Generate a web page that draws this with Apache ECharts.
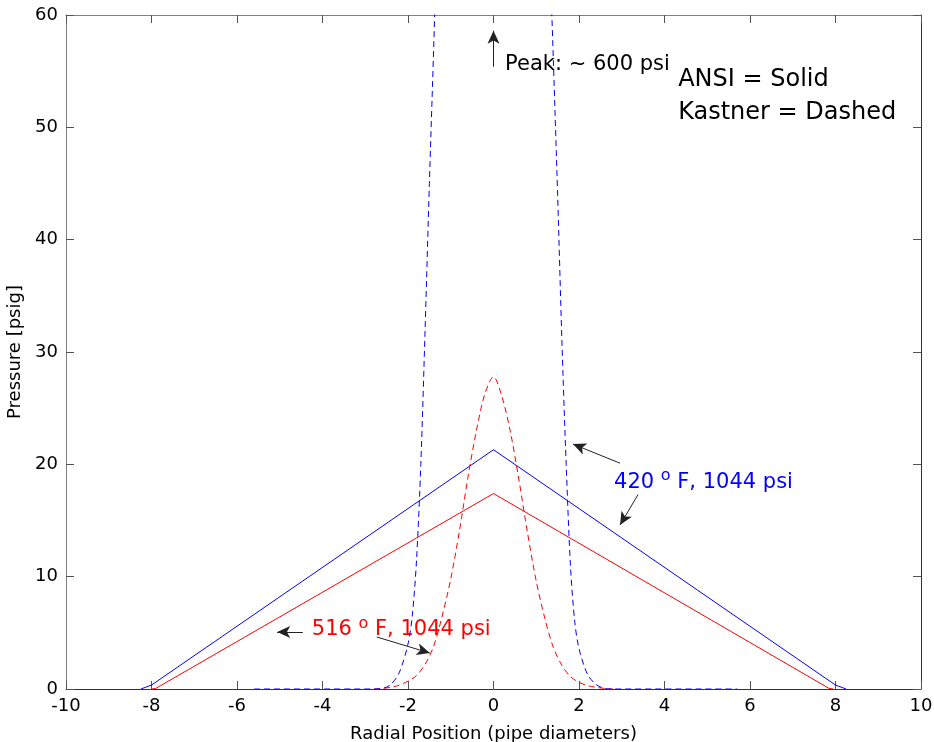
<!DOCTYPE html>
<html>
<head>
<meta charset="utf-8">
<script src="https://cdn.jsdelivr.net/npm/echarts@6/dist/echarts.min.js"></script>
<style>
  html, body { margin: 0; padding: 0; background: #fff; }
  #main { width: 934px; height: 742px; }
</style>
</head>
<body>
<div id="main"></div>
<script>
// ANSI (solid) curves
var ansiBlueX = [-8.25, -8.0, 0, 8.0, 8.25];
var ansiBlueY = [0, 0.35, 21.3, 0.35, 0];
var ansiRedX = [-8.0, -7.9, 0, 7.85, 7.95];
var ansiRedY = [0, 0.05, 17.4, 0.05, 0];

// Kastner (dashed) curves
var kastRedX = [-2.8, -2.6, -2.4, -2.2, -2.0, -1.8, -1.6, -1.4, -1.2, -1.0, -0.8, -0.6, -0.4, -0.2, 0,
                0.2, 0.4, 0.6, 0.8, 1.0, 1.2, 1.4, 1.6, 1.8, 2.0, 2.2, 2.4, 2.6, 2.8];
var kastRedY = [0, 0.05, 0.15, 0.35, 0.7, 1.2, 2.2, 3.8, 6.5, 9.8, 14, 18.8, 23, 26.3, 27.8,
                26, 22.8, 18.5, 13.8, 9.6, 6.3, 3.7, 2.1, 1.1, 0.6, 0.3, 0.15, 0.05, 0];
var kastBlueX = [-5.6, -2.8, -2.6, -2.4, -2.2, -2.0, -1.9, -1.8, -1.7, -1.6, -1.5, -1.4, -1.3, -1.2, -0.8, -0.4, 0,
                 0.4, 0.8, 1.2, 1.3, 1.4, 1.5, 1.6, 1.7, 1.8, 1.9, 2.0, 2.2, 2.4, 2.6, 2.8, 5.7];
var kastBlueY = [0, 0, 0.05, 0.4, 1.5, 4, 6.5, 11.5, 20, 32, 45, 57, 70, 88, 200, 450, 600,
                 450, 200, 88, 68, 56, 44, 31, 20, 11, 6, 3.6, 1.3, 0.4, 0.05, 0, 0];

// annotation arrows [fromX, fromY, toX, toY] in data units
var arrows = [
  [0, 55.4, 0, 58.6],
  [2.96, 20.1, 1.86, 21.8],
  [3.38, 17.3, 2.96, 14.6],
  [-4.46, 5.07, -5.06, 5.07],
  [-2.73, 4.63, -1.49, 3.2]
];

function pairs(xs, ys) {
  var out = [];
  for (var i = 0; i < xs.length; i++) out.push([xs[i], ys[i]]);
  return out;
}

var font = '"DejaVu Sans", Arial, sans-serif';
var myChart = echarts.init(document.getElementById('main'));

var arrowData = arrows.map(function (a) {
  return [{ coord: [a[0], a[1]] }, { coord: [a[2], a[3]] }];
});

var tickStyle = { show: true, inside: true, length: 8, lineStyle: { color: '#555', width: 1 } };

var option = {
  backgroundColor: '#fff',
  animation: false,
  grid: { left: 66, top: 15, right: 13, bottom: 53, containLabel: false, outerBoundsMode: 'none' },
  xAxis: [{
    type: 'value', min: -10, max: 10, interval: 2,
    name: 'Radial Position (pipe diameters)', nameLocation: 'middle', nameGap: 36,
    nameTextStyle: { fontFamily: font, fontSize: 18, color: '#000' },
    axisLine: { show: true, onZero: false, lineStyle: { color: '#333', width: 1 } },
    axisTick: tickStyle,
    axisLabel: { fontFamily: font, fontSize: 18, color: '#000', margin: 8 },
    splitLine: { show: false }
  }, {
    type: 'value', min: -10, max: 10, interval: 2, position: 'top',
    axisLine: { show: true, onZero: false, lineStyle: { color: '#808080', width: 1 } },
    axisTick: tickStyle,
    axisLabel: { show: false },
    splitLine: { show: false }
  }],
  yAxis: [{
    type: 'value', min: 0, max: 60, interval: 10,
    name: 'Pressure [psig]', nameLocation: 'middle', nameGap: 40, nameRotate: 90,
    nameTextStyle: { fontFamily: font, fontSize: 18, color: '#000' },
    axisLine: { show: true, onZero: false, lineStyle: { color: '#808080', width: 1 } },
    axisTick: tickStyle,
    axisLabel: { fontFamily: font, fontSize: 18, color: '#000', margin: 8 },
    splitLine: { show: false }
  }, {
    type: 'value', min: 0, max: 60, interval: 10, position: 'right',
    axisLine: { show: true, onZero: false, lineStyle: { color: '#333', width: 1 } },
    axisTick: tickStyle,
    axisLabel: { show: false },
    splitLine: { show: false }
  }],
  series: [
    {
      name: 'ANSI 420F', type: 'line', data: pairs(ansiBlueX, ansiBlueY),
      showSymbol: false, lineStyle: { color: '#0000ff', width: 1 }
    },
    {
      name: 'ANSI 516F', type: 'line', data: pairs(ansiRedX, ansiRedY),
      showSymbol: false, lineStyle: { color: '#ff0000', width: 1 }
    },
    {
      name: 'Kastner 516F', type: 'line', data: pairs(kastRedX, kastRedY),
      showSymbol: false, smooth: 0.3, lineStyle: { color: '#ff0000', width: 1, type: [6, 4] }
    },
    {
      name: 'Kastner 420F', type: 'line', data: pairs(kastBlueX, kastBlueY),
      showSymbol: false, smooth: 0.3, lineStyle: { color: '#0000ff', width: 1, type: [6, 4] }
    },
    {
      name: 'notes', type: 'line', data: [],
      markLine: {
        silent: true, animation: false,
        symbol: ['none', 'arrow'], symbolSize: [9, 13],
        label: { show: false },
        lineStyle: { color: '#222', width: 1, type: 'solid' },
        emphasis: { disabled: true },
        data: arrowData
      }
    }
  ]
};
myChart.setOption(option);

// text annotations placed at data positions
function at(x, y) { return myChart.convertToPixel({ xAxisIndex: 0, yAxisIndex: 0 }, [x, y]); }
var supRich = function (col) {
  return {
    a: { fontFamily: font, fontSize: 21, fill: col },
    s: { fontFamily: font, fontSize: 16, fill: col, padding: [0, 0, 12, 0] }
  };
};
var p1 = at(0.27, 55.6), p2 = at(4.32, 54.2), p3 = at(4.32, 51.3), p4 = at(2.82, 18.4), p5 = at(-4.25, 5.25);
myChart.setOption({
  graphic: [
    { type: 'text', x: p1[0], y: p1[1], style: { text: 'Peak: ~ 600 psi', font: '21px ' + font, fill: '#000', verticalAlign: 'middle' } },
    { type: 'text', x: p2[0], y: p2[1], style: { text: 'ANSI = Solid', font: '24px ' + font, fill: '#000', verticalAlign: 'middle' } },
    { type: 'text', x: p3[0], y: p3[1], style: { text: 'Kastner = Dashed', font: '24px ' + font, fill: '#000', verticalAlign: 'middle' } },
    { type: 'text', x: p4[0], y: p4[1], style: { text: '{a|420 }{s|o}{a| F, 1044 psi}', rich: supRich('#0000ff'), fill: '#0000ff', verticalAlign: 'middle' } },
    { type: 'text', x: p5[0], y: p5[1], style: { text: '{a|516 }{s|o}{a| F, 1044 psi}', rich: supRich('#ff0000'), fill: '#ff0000', verticalAlign: 'middle' } }
  ]
});
</script>
</body>
</html>
